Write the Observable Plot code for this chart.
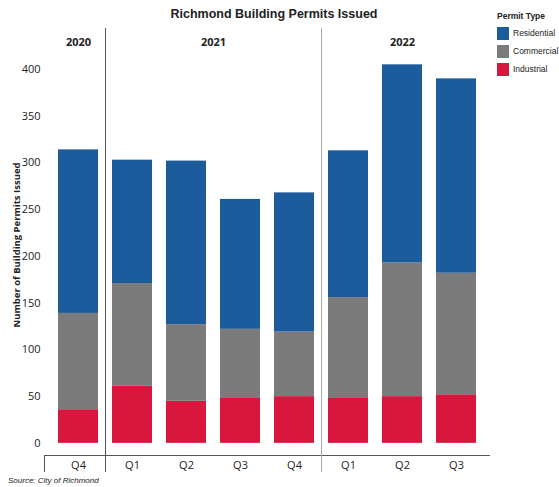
<!DOCTYPE html>
<html>
<head>
<meta charset="utf-8">
<script src="https://cdn.jsdelivr.net/npm/d3@7"></script>
<script src="https://cdn.jsdelivr.net/npm/@observablehq/plot@0.6"></script>
<style>
  body { margin: 0; background: #fff; font-family: "Liberation Sans", Arial, sans-serif; }
  #wrap { position: relative; width: 559px; height: 487px; }
  #title { position: absolute; left: 0; width: 548px; top: 7px; text-align: center; font-weight: bold; font-size: 12.5px; color: #222; }
  #ylabel { position: absolute; left: 16px; top: 245px; transform: translate(-50%, -50%) rotate(-90deg); white-space: nowrap; font-weight: bold; font-size: 9.5px; color: #222; font-family: "Open Sans", sans-serif; }
  #legend { position: absolute; left: 497px; top: 11px; font-size: 8.5px; color: #222; }
  #legend .hd { font-weight: bold; margin-bottom: 3px; }
  #legend .row { display: flex; align-items: center; height: 18px; }
  #legend .sw { width: 12px; height: 13px; margin-right: 4px; }
  #caption { position: absolute; left: 8px; top: 476px; font-style: italic; font-size: 8px; color: #222; }
  #chart { position: absolute; left: 0; top: 0; }
</style>
</head>
<body>
<div id="wrap">
  <div id="chart"></div>
  <div id="title">Richmond Building Permits Issued</div>
  <div id="ylabel">Number of Building Permits Issued</div>
  <div id="legend"></div>
  <div id="caption">Source: City of Richmond</div>
</div>
<script>
const years = ["2020", "2021", "2021", "2021", "2021", "2022", "2022", "2022"];
const quarters = ["Q4", "Q1", "Q2", "Q3", "Q4", "Q1", "Q2", "Q3"];
const industrial = [36, 61, 45, 48, 50, 48, 50, 52];
const commercial = [103, 110, 82, 74, 69, 108, 143, 130];
const residential = [175, 132, 175, 139, 149, 157, 212, 208];
const types = ["Residential", "Commercial", "Industrial"];
const colors = ["#1d5c9c", "#7b7b7b", "#d8173f"];
const yTicks = [0, 50, 100, 150, 200, 250, 300, 350, 400];
const yearLabels = ["2020", "2021", "2022"];

const keys = years.map((y, i) => y + " " + quarters[i]);
const rows = [];
keys.forEach((k, i) => {
  rows.push({key: k, type: "Industrial", value: industrial[i]});
  rows.push({key: k, type: "Commercial", value: commercial[i]});
  rows.push({key: k, type: "Residential", value: residential[i]});
});

const groups = yearLabels.map(y => {
  const ks = keys.filter(k => k.startsWith(y));
  return {year: y, first: ks[0], last: ks[ks.length - 1]};
});
const separators = groups.slice(1).map(g => g.first);

// Plot adds the half-bandwidth offset itself when rendering, so positions here are band starts.
function centerRender(index, scales, values, dims, ctx, next) {
  const x = scales.x;
  const X = Array.from(values.x);
  for (const i of index) {
    const g = groups[i];
    X[i] = (x(g.first) + x(g.last)) / 2;
  }
  return next(index, scales, {...values, x: X}, dims, ctx);
}
function sepRender(index, scales, values, dims, ctx, next) {
  const x = scales.x;
  const step = x.step();
  const bw = x.bandwidth();
  const X = Array.from(values.x);
  for (const i of index) X[i] = x(separators[i]) - (step - bw) / 2 - bw / 2;
  return next(index, scales, {...values, x: X}, dims, ctx);
}
function leftRender(index, scales, values, dims, ctx, next) {
  const bw = scales.x.bandwidth();
  return next(index, scales, {...values, x: Array.from(values.x, () => dims.marginLeft - bw / 2)}, dims, ctx);
}

const chart = Plot.plot({
  width: 559,
  height: 480,
  marginLeft: 44,
  marginRight: 69,
  marginTop: 69,
  marginBottom: 25,
  style: {fontFamily: "'Open Sans', sans-serif", fontSize: "11px", color: "#222", background: "transparent"},
  x: {domain: keys, paddingInner: 0.26, paddingOuter: 0.2, label: null},
  y: {domain: [-13, 400], label: null},
  color: {domain: types, range: colors},
  marks: [
    Plot.barY(rows, Plot.stackY({x: "key", y: "value", fill: "type", order: ["Industrial", "Commercial", "Residential"]})),
    Plot.axisY({ticks: yTicks, tickSize: 0, tickPadding: 4, label: null, fontSize: 11}),
    Plot.axisX({tickSize: 0, tickPadding: 6, tickFormat: d => d.split(" ")[1], label: null, fontSize: 11}),
    Plot.ruleY([-13], {stroke: "#555", strokeWidth: 1}),
    Plot.ruleX(separators, {x: d => d, stroke: (d, i) => i === 0 ? "#555" : "#aaa", insetTop: -41, insetBottom: -17, render: sepRender}),
    Plot.ruleX([keys[0]], {x: d => d, stroke: "#555", insetTop: 386, insetBottom: -17, render: leftRender}),
    Plot.text(groups, {x: "first", text: "year", frameAnchor: "top", dy: -31, fontWeight: "bold", fontSize: 11, fill: "#222", render: centerRender})
  ]
});
document.getElementById("chart").appendChild(chart);

const legend = document.getElementById("legend");
legend.innerHTML = '<div class="hd">Permit Type</div>' +
  types.map((t, i) => `<div class="row"><div class="sw" style="background:${colors[i]}"></div>${t}</div>`).join("");
</script>
</body>
</html>
